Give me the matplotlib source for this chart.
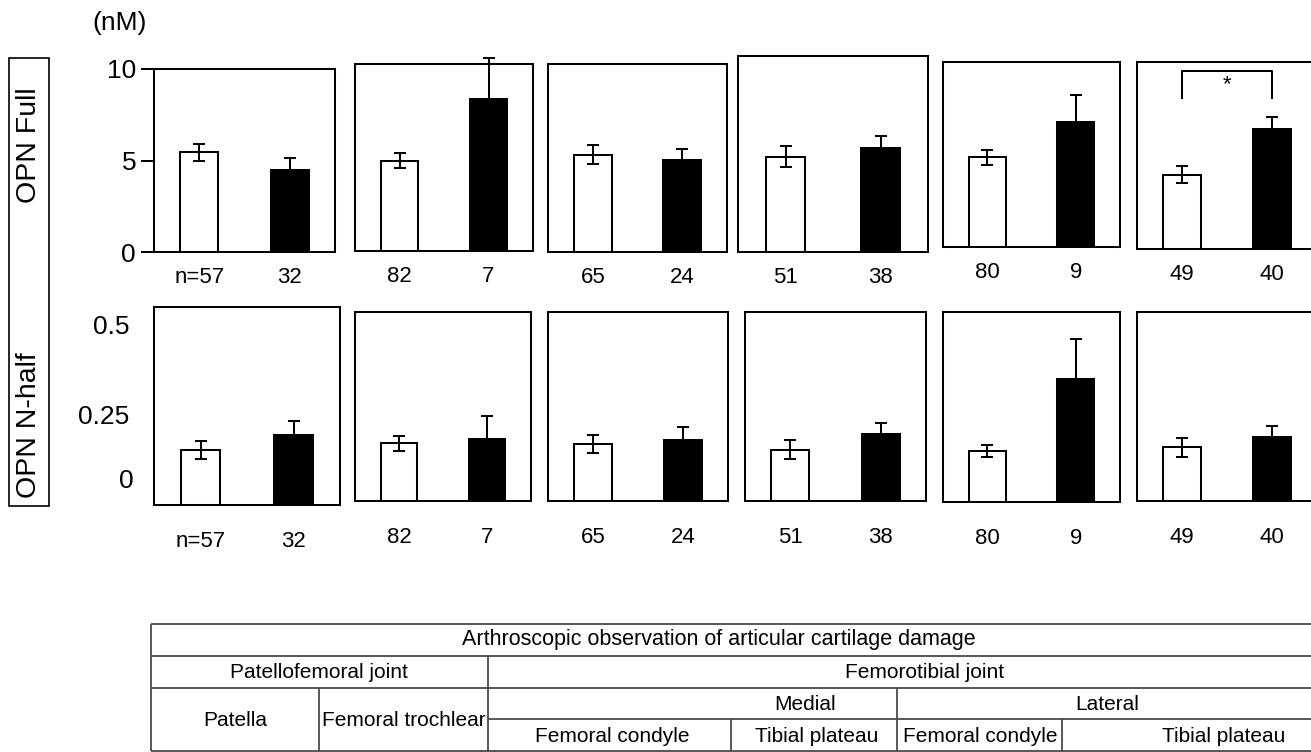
import matplotlib
matplotlib.use("Agg")
import matplotlib.pyplot as plt
from matplotlib.patches import Rectangle

plt.rcParams['font.family'] = ['Liberation Sans', 'DejaVu Sans']

# ---------------- data ----------------
n_white = ["n=57", "82", "65", "51", "80", "49"]
n_black = ["32", "7", "24", "38", "9", "40"]

full_white = [5.45, 4.93, 5.32, 5.21, 4.90, 4.06]
full_white_err = [0.45, 0.40, 0.50, 0.56, 0.42, 0.47]
full_black = [4.46, 8.32, 5.02, 5.68, 6.82, 6.58]
full_black_err = [0.70, 2.22, 0.63, 0.64, 1.50, 0.64]

half_white = [0.152, 0.160, 0.158, 0.143, 0.142, 0.149]
half_white_err = [0.025, 0.021, 0.025, 0.027, 0.017, 0.027]
half_black = [0.195, 0.173, 0.170, 0.186, 0.342, 0.177]
half_black_err = [0.039, 0.062, 0.036, 0.030, 0.111, 0.030]

full_yticks = [0, 5, 10]
half_yticks = [0.25, 0.5]
half_ytick_labels = ["0.25", "0.5"]

row_labels = ["OPN Full", "OPN N-half"]
unit_label = "(nM)"

table_title = "Arthroscopic observation of articular cartilage damage"
joint_labels = ["Patellofemoral joint", "Femorotibial joint"]
side_labels = ["Medial", "Lateral"]
pf_labels = ["Patella", "Femoral trochlear"]
ft_labels = ["Femoral condyle", "Tibial plateau", "Femoral condyle", "Tibial plateau"]

# ---------------- layout ----------------
W, H = 1311, 752
fig = plt.figure(figsize=(W / 100, H / 100), dpi=100)


def rect(x0, x1, ytop, ybot):
    return [x0 / W, 1 - ybot / H, (x1 - x0) / W, (ybot - ytop) / H]


top_frames = [(154, 335, 69, 252), (355, 533, 64, 251), (548, 727, 64, 252),
              (738, 928, 56, 252), (943, 1120, 62, 247), (1137, 1317, 62, 249)]
bot_frames = [(154, 340, 307, 505), (355, 531, 312, 501), (548, 728, 312, 501),
              (745, 926, 312, 501), (943, 1120, 312, 502), (1137, 1317, 312, 501)]
top_scale = 18.3   # px per nM
bot_scale = 360.0  # px per nM

LW = 1.45
TXT = 16
BIG = 19


def draw_panel(frame, scale, w, we, b, bw, lab_w, lab_b, pad):
    x0, x1, yt, yb = frame
    ax = fig.add_axes(rect(x0, x1, yt, yb))
    ax.bar([0, 1], [w, b], width=0.42, color=['white', 'black'],
           edgecolor='black', linewidth=LW, zorder=2)
    eb = ax.errorbar([0, 1], [w, b], yerr=[we, bw], fmt='none', ecolor='black',
                     elinewidth=LW, capsize=4.2, capthick=LW, zorder=3)
    for art in list(eb.lines[1]) + list(eb.lines[2]):
        art.set_clip_on(False)
    ax.set_xlim(-0.5, 1.5)
    ax.set_ylim(0, (yb - yt) / scale)
    ax.set_xticks([0, 1])
    ax.set_xticklabels([lab_w, lab_b], fontsize=TXT)
    ax.tick_params(axis='x', length=0, pad=pad)
    ax.set_yticks([])
    for s in ax.spines.values():
        s.set_linewidth(LW)
    return ax


top_axes = []
for i in range(6):
    ax = draw_panel(top_frames[i], top_scale, full_white[i], full_white_err[i],
                    full_black[i], full_black_err[i], n_white[i], n_black[i], 11)
    top_axes.append(ax)

bot_axes = []
for i in range(6):
    ax = draw_panel(bot_frames[i], bot_scale, half_white[i], half_white_err[i],
                    half_black[i], half_black_err[i], n_white[i], n_black[i], 18.5)
    bot_axes.append(ax)

# y axis of first panels
ax = top_axes[0]
ax.set_yticks(full_yticks)
ax.set_yticklabels([str(v) for v in full_yticks], fontsize=BIG)
ax.tick_params(axis='y', length=9.4, width=LW, pad=3.5, direction='out')

ax = bot_axes[0]
ax.set_yticks(half_yticks)
ax.set_yticklabels(half_ytick_labels, fontsize=BIG)
ax.tick_params(axis='y', length=0, pad=18)
ax.annotate("0", xy=(0, 0), xycoords=('axes fraction', 'data'),
            xytext=(-15, 17), textcoords='offset points',
            ha='right', va='center', fontsize=BIG)

# significance bracket on last top panel
ax = top_axes[5]
ax.plot([0, 0, 1, 1], [8.27, 9.73, 9.73, 8.27], color='black', lw=LW,
        clip_on=False, zorder=4)
ax.text(0.5, 9.55, "*", ha='center', va='top', fontsize=16)

# ---------------- overlay (labels + table) ----------------
ov = fig.add_axes([0, 0, 1, 1])
ov.set_xlim(0, W)
ov.set_ylim(H, 0)
ov.axis('off')
ov.patch.set_visible(False)

ov.add_patch(Rectangle((9, 58), 40, 448, fill=False, edgecolor='black', lw=1.2))
ov.text(29, 145, row_labels[0], rotation=90, ha='center', va='center', fontsize=20.5)
ov.text(29, 425, row_labels[1], rotation=90, ha='center', va='center', fontsize=20.5)
ov.text(120, 23, unit_label, ha='center', va='center', fontsize=BIG)

# table
TL = dict(color='#4a4a4a', lw=1.3, solid_capstyle='butt')
L, R = 151, 1315
for y in [624, 656, 688, 751]:
    ov.plot([L, R], [y, y], **TL)
ov.plot([488, R], [719, 719], **TL)
ov.plot([L, L], [624, 751], **TL)
ov.plot([488, 488], [656, 751], **TL)
ov.plot([319, 319], [688, 751], **TL)
ov.plot([897, 897], [688, 751], **TL)
ov.plot([731, 731], [719, 751], **TL)
ov.plot([1062, 1062], [719, 751], **TL)

TF = 15
ov.text(719, 640, table_title, ha='center', va='center', fontsize=15.5)
ov.text(319, 672, joint_labels[0], ha='center', va='center', fontsize=TF)
ov.text(925, 672, joint_labels[1], ha='center', va='center', fontsize=TF)
ov.text(805, 704, side_labels[0], ha='center', va='center', fontsize=TF)
ov.text(1107, 704, side_labels[1], ha='center', va='center', fontsize=TF)
ov.text(235, 720, pf_labels[0], ha='center', va='center', fontsize=TF)
ov.text(404, 720, pf_labels[1], ha='center', va='center', fontsize=TF)
for xc, t in zip([612, 817, 980, 1224], ft_labels):
    ov.text(xc, 736, t, ha='center', va='center', fontsize=TF)

fig.savefig("out.png", dpi=100)
